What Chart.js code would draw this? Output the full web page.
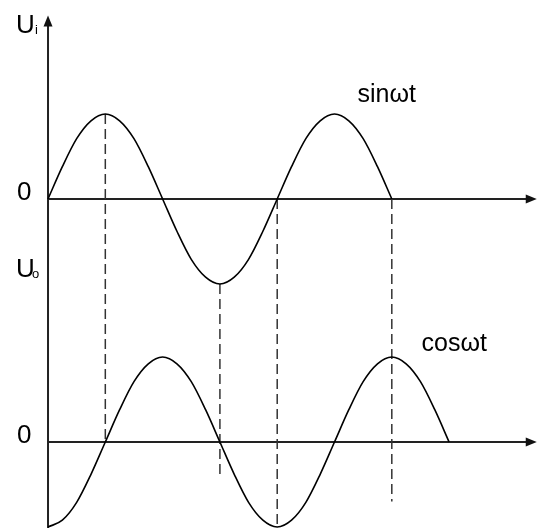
<!DOCTYPE html>
<html>
<head>
<meta charset="utf-8">
<script src="https://cdn.jsdelivr.net/npm/chart.js@4/dist/chart.umd.min.js"></script>
<style>
    body { margin: 0; background: #fff; }
    #wrap { width: 548px; height: 528px; }
</style>
</head>
<body>
<div id="wrap"><canvas id="waveChart" width="548" height="528"></canvas></div>
<script>
// 相位（单位 π/2）与读数
const sinPhase = [0, 0.25, 0.5, 0.75, 1, 1.25, 1.5, 1.75, 2, 2.25, 2.5, 2.75, 3,
    3.25, 3.5, 3.75, 4, 4.25, 4.5, 4.75, 5, 5.25, 5.5, 5.75, 6];
const sinValues = [0, 0.38, 0.71, 0.92, 1, 0.92, 0.71, 0.38, 0, -0.38, -0.71, -0.92, -1,
    -0.92, -0.71, -0.38, 0, 0.38, 0.71, 0.92, 1, 0.92, 0.71, 0.38, 0];
const cosPhase = [0, 0.25, 0.5, 0.75, 1, 1.25, 1.5, 1.75, 2, 2.25, 2.5, 2.75, 3,
    3.25, 3.5, 3.75, 4, 4.25, 4.5, 4.75, 5, 5.25, 5.5, 5.75, 6, 6.25, 6.5, 6.75, 7];
const cosValues = [-1, -0.92, -0.71, -0.38, 0, 0.38, 0.71, 0.92, 1, 0.92, 0.71, 0.38, 0,
    -0.38, -0.71, -0.92, -1, -0.92, -0.71, -0.38, 0, 0.38, 0.71, 0.92, 1, 0.92, 0.71, 0.38, 0];

// 虚线：相位，上图起点值，下图终点值
const guidePhase = [1, 3, 4, 6];
const guideTop = [1, -1, 0, 0];
const guideBottom = [0, -0.42, -1, -0.7];

// 坐标轴长度
const xAxisEnd = 8.53;
const yAxisTop = 2.16;

const font = '"Liberation Sans", Arial, sans-serif';

function toPoints(xs, ys) {
    return xs.map((v, i) => ({ x: v, y: ys[i] }));
}

function arrow(ctx, x, y, dir) {
    ctx.beginPath();
    if (dir === 'up') {
        ctx.moveTo(x, y);
        ctx.lineTo(x - 4.5, y + 11);
        ctx.lineTo(x + 4.5, y + 11);
    } else {
        ctx.moveTo(x, y);
        ctx.lineTo(x - 11, y - 4.5);
        ctx.lineTo(x - 11, y + 4.5);
    }
    ctx.closePath();
    ctx.fill();
}

// 坐标轴、虚线与文字
const axisPlugin = {
    id: 'axisPlugin',
    beforeDatasetsDraw(chart) {
        const { ctx, scales: { x, yTop, yBottom } } = chart;
        const x0 = x.getPixelForValue(0);
        const xe = x.getPixelForValue(xAxisEnd);
        const yt0 = yTop.getPixelForValue(0);
        const yb0 = yBottom.getPixelForValue(0);
        ctx.save();
        ctx.strokeStyle = '#222';
        ctx.fillStyle = '#111';
        ctx.lineWidth = 2;
        ctx.beginPath();
        ctx.moveTo(x0, chart.height);
        ctx.lineTo(x0, yTop.getPixelForValue(yAxisTop) + 6);
        ctx.moveTo(x0, yt0);
        ctx.lineTo(xe - 6, yt0);
        ctx.moveTo(x0, yb0);
        ctx.lineTo(xe - 6, yb0);
        ctx.stroke();
        arrow(ctx, x0, yTop.getPixelForValue(yAxisTop), 'up');
        arrow(ctx, xe, yt0, 'right');
        arrow(ctx, xe, yb0, 'right');

        // 虚线
        ctx.strokeStyle = '#333';
        ctx.lineWidth = 1.5;
        ctx.setLineDash([10, 5]);
        guidePhase.forEach((p, i) => {
            const gx = x.getPixelForValue(p);
            ctx.beginPath();
            ctx.moveTo(gx, yTop.getPixelForValue(guideTop[i]));
            ctx.lineTo(gx, yBottom.getPixelForValue(guideBottom[i]));
            ctx.stroke();
        });
        ctx.setLineDash([]);

        // 文字
        ctx.fillStyle = '#000';
        ctx.textBaseline = 'alphabetic';
        ctx.textAlign = 'left';
        ctx.font = '26px ' + font;
        ctx.fillText('0', 17, yt0 + 1);
        ctx.fillText('0', 17, yb0 + 1);
        ctx.fillText('U', 16, 33);
        ctx.fillText('U', 16, 277);
        ctx.font = '25px ' + font;
        ctx.fillText('sinωt', x.getPixelForValue(5.4), yTop.getPixelForValue(1.14));
        ctx.fillText('cosωt', x.getPixelForValue(6.52), yBottom.getPixelForValue(1.07));
        ctx.font = '13px ' + font;
        ctx.fillText('i', 35, 34);
        ctx.fillText('o', 32, 278);
        ctx.restore();
    }
};

const ctx = document.getElementById('waveChart').getContext('2d');
const waveChart = new Chart(ctx, {
    type: 'line',
    data: {
        datasets: [
            {
                label: 'sinωt',
                data: toPoints(sinPhase, sinValues),
                yAxisID: 'yTop',
                borderColor: '#000',
                borderWidth: 1.6,
                pointRadius: 0,
                cubicInterpolationMode: 'monotone',
                fill: false
            },
            {
                label: 'cosωt',
                data: toPoints(cosPhase, cosValues),
                yAxisID: 'yBottom',
                borderColor: '#000',
                borderWidth: 1.6,
                pointRadius: 0,
                cubicInterpolationMode: 'monotone',
                fill: false
            }
        ]
    },
    options: {
        responsive: false,
        animation: false,
        layout: { padding: 0 },
        scales: {
            x: { type: 'linear', display: false, min: -0.838, max: 8.726 },
            yTop: { type: 'linear', display: false, min: -3.871, max: 2.341 },
            yBottom: { type: 'linear', display: false, min: -1.012, max: 5.2 }
        },
        plugins: {
            legend: { display: false },
            tooltip: { enabled: false }
        }
    },
    plugins: [axisPlugin]
});
</script>
</body>
</html>
